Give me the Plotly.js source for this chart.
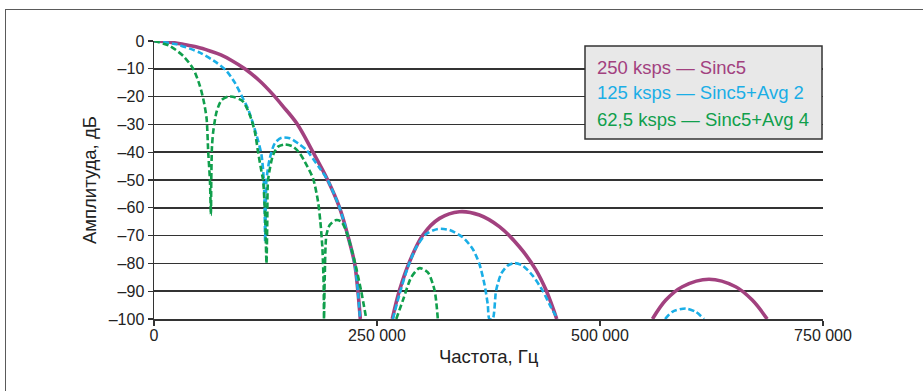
<!DOCTYPE html>
<html>
<head>
<meta charset="utf-8">
<script src="https://cdn.plot.ly/plotly-3.0.1.min.js"></script>
<style>
  html, body { margin: 0; padding: 0; background: #ffffff; }
  #wrap { position: relative; width: 923px; height: 391px; overflow: hidden; }
  #frame { position: absolute; left: 5px; top: 9px; width: 930px; height: 400px;
           border-left: 1.6px solid #5a5a5a; border-top: 1.6px solid #5a5a5a; box-sizing: border-box; }
  #chart { position: absolute; left: 0; top: 0; width: 923px; height: 391px; }
</style>
</head>
<body>
<div id="wrap">
  <div id="frame"></div>
  <div id="chart"></div>
</div>
<script>
// ---- Data (frequency in Hz, amplitude in dB); null separates lobes ----
const seriesNames = ["250 ksps \u2014 Sinc5", "125 ksps \u2014 Sinc5+Avg 2", "62,5 ksps \u2014 Sinc5+Avg 4"];

const sinc5Freq = [0, 18000, 32500, 48000, 62700, 75000, 87000, 101800, 118600, 133200, 144400, 160000, 177900, 194700, 208100, 217100, 224900, 228600, 231300,
  null,
  267100, 275300, 286500, 301400, 320100, 342400, 364800, 387200, 409600, 428300, 439500, 451500,
  null,
  558800, 573800, 592300, 622200, 652100, 670700, 687400];
const sinc5Db = [0, -0.4, -1.2, -2.2, -3.6, -5.0, -7.0, -10, -14.4, -19.2, -23.4, -29.6, -39.8, -50, -60, -69.8, -80, -90, -100,
  null,
  -100, -89.6, -79.4, -69.8, -63.8, -61.4, -62.6, -66.8, -74, -82.4, -89.6, -100,
  null,
  -100, -93.2, -88.4, -85.7, -88.4, -93.2, -100];

const avg2Freq = [0, 25400, 51500, 70200, 81400, 90600, 98100, 105500, 114900, 120500, 123100, 124000, 124600,
  125300, 126100, 129800, 135400, 142900, 152200, 161500, 170900, 185800, 194700, 208100, 217100, 224900, 228600, 231000,
  null,
  267800, 275300, 284600, 294000, 305200, 318200, 331300, 346100, 357300, 364800, 370400, 374100, 376000,
  379700, 383500, 389100, 396500, 404000, 413300, 424500, 435700, 445100, 452500,
  null,
  573000, 581100, 596100, 607300, 616600];
const avg2Db = [0, -1.2, -4.2, -7.8, -10.8, -15, -19.6, -24.5, -33.8, -41, -50, -60, -72,
  -60, -50, -42.2, -36.8, -34.8, -35, -36.8, -39.2, -45.8, -50, -60, -69.8, -80, -90, -100,
  null,
  -100, -91, -81.4, -74.2, -69.4, -67.6, -68, -70.6, -74.8, -80.2, -87.4, -94.6, -100,
  -100, -89.8, -83.8, -80.8, -79.9, -80.8, -84.4, -89.8, -95.8, -100,
  null,
  -100, -97.4, -96.2, -97.4, -100];

const avg4Freq = [0, 17900, 32800, 44000, 51500, 56000, 59000, 60800, 62700, 63800,
  64200, 65000, 66400, 70200, 75800, 83200, 90600, 99900, 107400, 113000, 116700, 120500, 122300, 124800, 126100,
  127000, 127900, 133500, 139100, 146600, 155900, 163400, 169000, 178300, 183900, 186500, 188800, 190200, 190600,
  191400, 193300, 197000, 204500, 210100, 215700, 221200, 226800, 232400, 238000,
  null,
  271600, 279000, 288400, 297700, 307000, 314500, 318200];
const avg4Db = [0, -1.8, -5.4, -10, -16.2, -22, -28, -40, -50, -62.6,
  -50, -38, -32.6, -25.4, -21.2, -20, -20.2, -21.8, -26.6, -32.6, -40, -47, -50, -65, -80,
  -65, -50, -41, -38, -37.2, -38, -40.4, -43.4, -49.4, -57.8, -65, -74.6, -87.7, -100,
  -85, -69.8, -66.2, -64.4, -65, -68.6, -74.6, -81.8, -90.2, -100,
  null,
  -100, -93.3, -85, -81.7, -83.2, -89.6, -100];

const xTickVals = [0, 250000, 500000, 750000];
const xTickText = ["0", "250 000", "500 000", "750 000"];
const yTickVals = [0, -10, -20, -30, -40, -50, -60, -70, -80, -90, -100];
const yTickText = ["0", "\u201310", "\u201320", "\u201330", "\u201340", "\u201350", "\u201360", "\u201370", "\u201380", "\u201390", "\u2013100"];
const xTitle = "Частота, Гц";
const yTitle = "Амплитуда, дБ";

// ---- Styles ----
const colors = ["#a2417f", "#1aaee6", "#109f4c"];
const FONT = "'Liberation Sans', Arial, Helvetica, sans-serif";
const PL = 154, PR = 823, PT = 41, PB = 319;
const px2x = p => (p - PL) / (PR - PL);
const px2y = p => (PB - p) / (PB - PT);

const traces = [
  { x: sinc5Freq, y: sinc5Db, name: seriesNames[0], mode: "lines",
    line: { color: colors[0], width: 3.6, shape: "spline", smoothing: 1 }, connectgaps: false },
  { x: avg2Freq, y: avg2Db, name: seriesNames[1], mode: "lines",
    line: { color: colors[1], width: 2.6, dash: "6px,3px", shape: "spline", smoothing: 0.7 }, connectgaps: false },
  { x: avg4Freq, y: avg4Db, name: seriesNames[2], mode: "lines",
    line: { color: colors[2], width: 2.6, dash: "6px,3px", shape: "spline", smoothing: 0.7 }, connectgaps: false }
];

const annotations = seriesNames.map((t, i) => ({
  xref: "paper", yref: "paper",
  x: px2x(596), y: px2y(67 + 26 * i),
  xanchor: "left", yanchor: "middle",
  text: t, showarrow: false, borderpad: 0,
  font: { family: FONT, size: 18.5, color: colors[i] }
}));
annotations.push({
  xref: "paper", yref: "paper", x: 0.5, y: px2y(356), xanchor: "center", yanchor: "middle",
  text: xTitle, showarrow: false, font: { family: FONT, size: 18.5, color: "#222" }
});
annotations.push({
  xref: "paper", yref: "paper", x: px2x(89), y: px2y(180), xanchor: "center", yanchor: "middle",
  textangle: -90, text: yTitle, showarrow: false, font: { family: FONT, size: 18.5, color: "#222" }
});

const layout = {
  width: 923, height: 391,
  margin: { l: PL, r: 923 - PR, t: PT, b: 391 - PB },
  paper_bgcolor: "rgba(0,0,0,0)",
  plot_bgcolor: "rgba(0,0,0,0)",
  showlegend: false,
  font: { family: FONT, color: "#222" },
  xaxis: {
    range: [0, 750000], tickvals: xTickVals, ticktext: xTickText,
    showgrid: false, zeroline: false,
    showline: true, linecolor: "#333", linewidth: 1.5,
    ticks: "outside", ticklen: 5, tickcolor: "#333", tickwidth: 1.3,
    ticklabelstandoff: -4,
    tickfont: { family: FONT, size: 16, color: "#222" }
  },
  yaxis: {
    range: [-100, 0], tickvals: yTickVals, ticktext: yTickText,
    showgrid: true, gridcolor: "#333333", gridwidth: 1.6, zeroline: false,
    showline: true, linecolor: "#333", linewidth: 1.5,
    ticks: "outside", ticklen: 5, tickcolor: "#333", tickwidth: 1.3,
    tickfont: { family: FONT, size: 16, color: "#222" }
  },
  shapes: [
    { type: "rect", xref: "paper", yref: "paper", layer: "above",
      x0: px2x(585), x1: px2x(822), y0: px2y(139), y1: px2y(46),
      fillcolor: "#e8e8e8", line: { color: "#333", width: 1.5 } }
  ],
  annotations: annotations
};

Plotly.newPlot("chart", traces, layout, { displayModeBar: false, staticPlot: true });
</script>
</body>
</html>
